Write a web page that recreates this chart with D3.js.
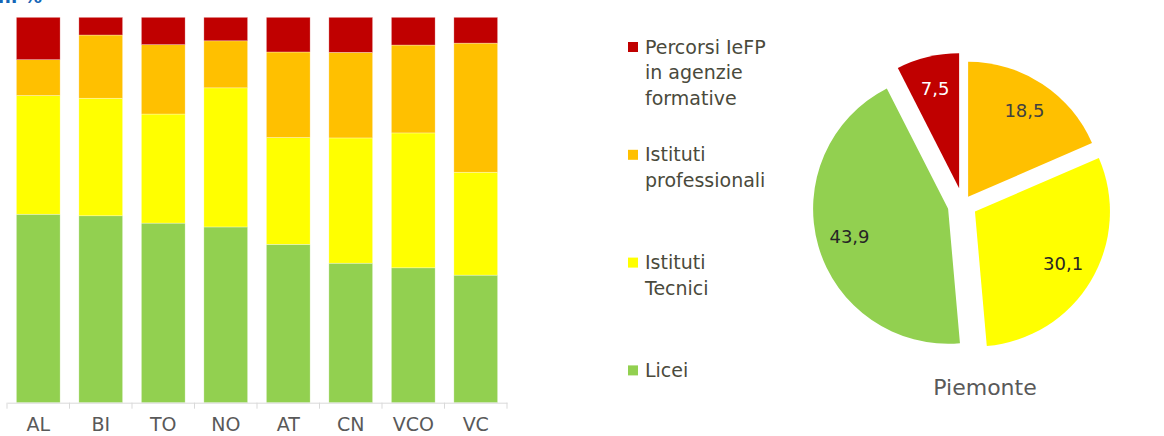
<!DOCTYPE html>
<html>
<head>
<meta charset="utf-8">
<script src="https://cdn.jsdelivr.net/npm/d3@7"></script>
<style>
  html, body { margin: 0; padding: 0; background: #fff; }
  svg { display: block; font-family: "Century Gothic", "DejaVu Sans", sans-serif; }
</style>
</head>
<body>
<svg id="chart" width="1164" height="436"></svg>
<script>
// ---- data ----
const provinces = ["AL", "BI", "TO", "NO", "AT", "CN", "VCO", "VC"];
const seriesNames = ["Licei", "Istituti Tecnici", "Istituti professionali", "Percorsi IeFP in agenzie formative"];
const licei         = [48.9, 48.5, 46.6, 45.6, 41.1, 36.2, 35.0, 33.1];
const tecnici       = [30.8, 30.5, 28.3, 36.1, 27.7, 32.5, 35.0, 26.7];
const professionali = [ 9.3, 16.4, 18.0, 12.2, 22.2, 22.2, 22.8, 33.5];
const iefp          = [11.0,  4.6,  7.1,  6.1,  9.0,  9.1,  7.2,  6.7];
const colors = ["#92D050", "#FFFF00", "#FFC000", "#C00000"];

const legendLines = [
  ["Percorsi IeFP", "in agenzie", "formative"],
  ["Istituti", "professionali"],
  ["Istituti", "Tecnici"],
  ["Licei"]
];
const legendColors = ["#C00000", "#FFC000", "#FFFF00", "#92D050"];

const pieRegion = "Piemonte";
const pieLabels = ["7,5", "18,5", "30,1", "43,9"];
const pieValues = [7.5, 18.5, 30.1, 43.9];
const pieColors = ["#C00000", "#FFC000", "#FFFF00", "#92D050"];
const pieExplode = [16.6, 9.3, 13.9, 15.5];
const pieLabelColors = ["#ffffff", "#404040", "#262626", "#262626"];

const titleTail = "n. %";

// ---- drawing ----
const svg = d3.select("#chart");

// cut-off title at the top (the reference shows only its bottom edge)
svg.append("text")
  .attr("x", -2).attr("y", 3)
  .attr("font-size", 18).attr("font-weight", "bold")
  .attr("fill", "#1566b7")
  .text(titleTail);

// stacked 100% bars
const rows = provinces.map((p, i) => {
  const vals = [licei[i], tecnici[i], professionali[i], iefp[i]];
  const tot = d3.sum(vals);
  return {prov: p, s0: vals[0] / tot, s1: vals[1] / tot, s2: vals[2] / tot, s3: vals[3] / tot};
});
const stack = d3.stack().keys(["s0", "s1", "s2", "s3"]);
const stacked = stack(rows);

const x = d3.scaleBand().domain(provinces).range([7, 507]).paddingInner(0.3).paddingOuter(0.15);
const y = d3.scaleLinear().domain([0, 1]).range([402.7, 17.3]);

const gBars = svg.append("g");
stacked.forEach((layer, li) => {
  gBars.selectAll(null).data(layer).enter().append("rect")
    .attr("x", d => x(d.data.prov))
    .attr("width", x.bandwidth())
    .attr("y", d => y(d[1]))
    .attr("height", d => y(d[0]) - y(d[1]))
    .attr("fill", colors[li])
    .attr("stroke", "#ffffff").attr("stroke-width", 0.6).attr("stroke-opacity", 0.5);
});

// x axis
const axisY = y(0);
const axisG = svg.append("g").attr("transform", `translate(0,${axisY})`)
  .call(d3.axisBottom(x).tickSize(0).tickPadding(15));
axisG.select(".domain").attr("stroke", "#d9d9d9").attr("stroke-width", 1);
axisG.selectAll("text")
  .attr("font-family", "'Century Gothic', 'DejaVu Sans', sans-serif")
  .attr("font-size", 19).attr("fill", "#595959");
const step = x.step();
const boundaries = d3.range(provinces.length + 1).map(i => x.range()[0] + i * step);
svg.append("g").selectAll("line").data(boundaries).enter().append("line")
  .attr("x1", d => d).attr("x2", d => d)
  .attr("y1", axisY).attr("y2", axisY + 6)
  .attr("stroke", "#d9d9d9").attr("stroke-width", 1);

// legend
const legend = svg.append("g");
legendLines.forEach((lines, i) => {
  const top = 42 + i * 107.8;
  legend.append("rect").attr("x", 628).attr("y", top).attr("width", 10).attr("height", 10)
    .attr("fill", legendColors[i]);
  const t = legend.append("text").attr("font-size", 19).attr("fill", "#4a4a3c");
  lines.forEach((ln, j) => {
    t.append("tspan").attr("x", 645).attr("y", top + 11.5 + j * 25.5).text(ln);
  });
});

// pie
const cx = 963, cy = 204.5, r = 135;
const startA = -2 * Math.PI * pieValues[0] / d3.sum(pieValues);
const pie = d3.pie().sort(null).startAngle(startA).endAngle(startA + 2 * Math.PI);
const arcs = pie(pieValues);
const arc = d3.arc().innerRadius(0).outerRadius(r);
const labelArc = d3.arc().innerRadius(r * 0.76).outerRadius(r * 0.76);
const gPie = svg.append("g").attr("transform", `translate(${cx},${cy})`);
arcs.forEach((a, i) => {
  const mid = (a.startAngle + a.endAngle) / 2;
  const dx = Math.sin(mid) * pieExplode[i], dy = -Math.cos(mid) * pieExplode[i];
  const g = gPie.append("g").attr("transform", `translate(${dx},${dy})`);
  g.append("path").attr("d", arc(a)).attr("fill", pieColors[i]);
  const c = labelArc.centroid(a);
  g.append("text").attr("x", c[0]).attr("y", c[1]).attr("dy", "0.35em")
    .attr("text-anchor", "middle").attr("font-size", 18)
    .attr("fill", pieLabelColors[i]).text(pieLabels[i]);
});
svg.append("text").attr("x", 985).attr("y", 395).attr("text-anchor", "middle")
  .attr("font-size", 22).attr("fill", "#595959").text(pieRegion);
</script>
</body>
</html>
